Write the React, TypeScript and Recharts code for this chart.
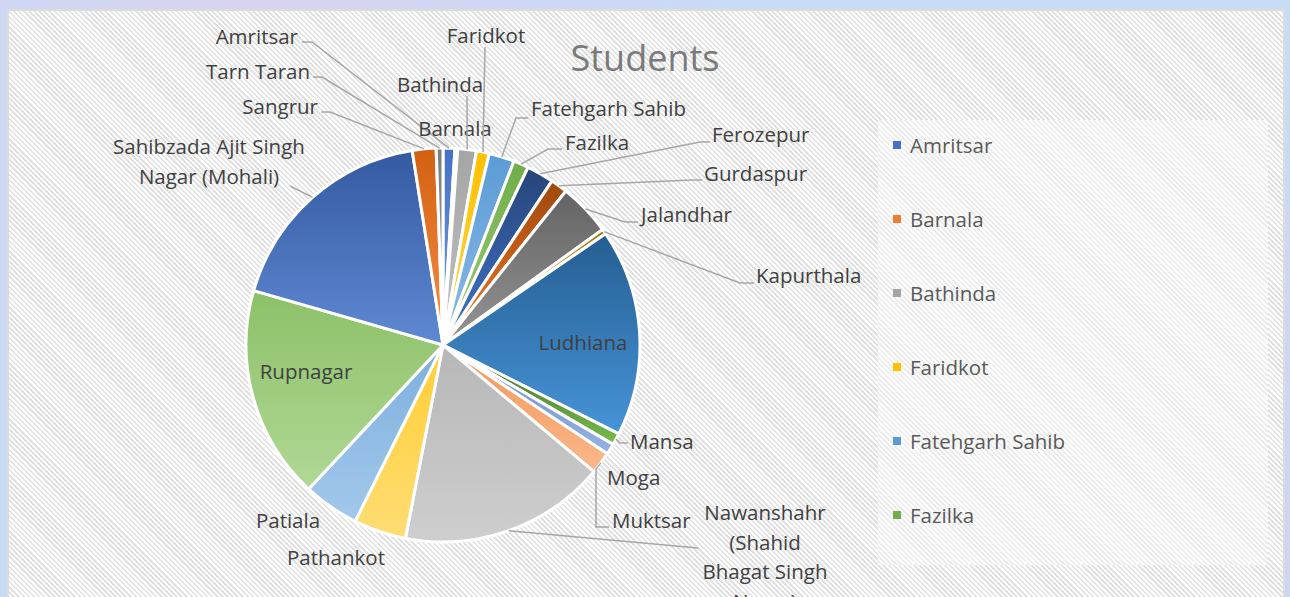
import React from 'react';
import { PieChart, Pie, Cell, Legend } from 'recharts';

const districts = [
  'Amritsar', 'Barnala', 'Bathinda', 'Faridkot', 'Fatehgarh Sahib', 'Fazilka',
  'Ferozepur', 'Gurdaspur', 'Jalandhar', 'Kapurthala', 'Ludhiana', 'Mansa',
  'Moga', 'Muktsar', 'Nawanshahr (Shahid Bhagat Singh Nagar)', 'Pathankot',
  'Patiala', 'Rupnagar', 'Sahibzada Ajit Singh Nagar (Mohali)', 'Sangrur', 'Tarn Taran',
];
const students = [35, 8, 55, 38, 75, 45, 80, 50, 155, 15, 612, 35, 32, 65, 610, 155, 165, 630, 650, 70, 20];

const colors = [
  '#4472C4', '#ED7D31', '#A5A5A5', '#FFC000', '#5B9BD5', '#70AD47',
  '#264478', '#9E480E', '#636363', '#997300', '#255E91', '#43682B',
  '#698ED0', '#F1975A', '#B7B7B7', '#FFCD33', '#7CAFDD', '#8CC168',
  '#335AA1', '#D26012', '#7C7C7C',
];

const data = districts.map((name, i) => ({ name, students: students[i] }));

const FONT = '"Open Sans", "Noto Sans", sans-serif';
const RAD = Math.PI / 180;

// lighter, a bit more saturated version of a colour (bottom of the slice gradient)
const lighten = (hex: string) => {
  const n = parseInt(hex.slice(1), 16);
  const r = ((n >> 16) & 255) / 255, g = ((n >> 8) & 255) / 255, b = (n & 255) / 255;
  const max = Math.max(r, g, b), min = Math.min(r, g, b);
  let h = 0, s = 0;
  const l = (max + min) / 2;
  if (max !== min) {
    const d = max - min;
    s = l > 0.5 ? d / (2 - max - min) : d / (max + min);
    if (max === r) h = (g - b) / d + (g < b ? 6 : 0);
    else if (max === g) h = (b - r) / d + 2;
    else h = (r - g) / d + 4;
    h *= 60;
  }
  const s2 = Math.min(1, s * 1.1);
  const l2 = l + (1 - l) * 0.32;
  return `hsl(${h.toFixed(1)}, ${(s2 * 100).toFixed(1)}%, ${(l2 * 100).toFixed(1)}%)`;
};

type LabelSpot = { x: number; y: number; anchor: 'start' | 'middle' | 'end'; lines: string[]; path?: number[][] };

// where Excel put each data label, and the bends of its leader line
const labelSpots: Record<string, LabelSpot> = {
  'Amritsar': { x: 298, y: 36, anchor: 'end', lines: ['Amritsar'], path: [[312, 42], [302, 42]] },
  'Tarn Taran': { x: 310, y: 71, anchor: 'end', lines: ['Tarn Taran'], path: [[322, 77], [313, 77]] },
  'Sangrur': { x: 318, y: 106, anchor: 'end', lines: ['Sangrur'], path: [[330, 112], [321, 112]] },
  'Sahibzada Ajit Singh Nagar (Mohali)': { x: 209, y: 146, anchor: 'middle', lines: ['Sahibzada Ajit Singh', 'Nagar (Mohali)'], path: [[290, 186]] },
  'Bathinda': { x: 440, y: 84, anchor: 'middle', lines: ['Bathinda'], path: [[467, 96]] },
  'Barnala': { x: 455, y: 128, anchor: 'middle', lines: ['Barnala'] },
  'Faridkot': { x: 486, y: 35, anchor: 'middle', lines: ['Faridkot'], path: [[485, 47]] },
  'Fatehgarh Sahib': { x: 531, y: 108, anchor: 'start', lines: ['Fatehgarh Sahib'], path: [[516, 118], [528, 118]] },
  'Fazilka': { x: 565, y: 142, anchor: 'start', lines: ['Fazilka'], path: [[548, 149], [562, 149]] },
  'Ferozepur': { x: 712, y: 134, anchor: 'start', lines: ['Ferozepur'], path: [[700, 142], [710, 142]] },
  'Gurdaspur': { x: 704, y: 173, anchor: 'start', lines: ['Gurdaspur'], path: [[692, 180], [702, 180]] },
  'Jalandhar': { x: 641, y: 214, anchor: 'start', lines: ['Jalandhar'], path: [[625, 222], [638, 222]] },
  'Kapurthala': { x: 756, y: 275, anchor: 'start', lines: ['Kapurthala'], path: [[740, 283], [754, 283]] },
  'Ludhiana': { x: 583, y: 342, anchor: 'middle', lines: ['Ludhiana'] },
  'Mansa': { x: 630, y: 441, anchor: 'start', lines: ['Mansa'], path: [[620, 443], [628, 443]] },
  'Moga': { x: 607, y: 477, anchor: 'start', lines: ['Moga'] },
  'Muktsar': { x: 612, y: 520, anchor: 'start', lines: ['Muktsar'], path: [[596, 469], [596, 527], [609, 527]] },
  'Nawanshahr (Shahid Bhagat Singh Nagar)': { x: 765, y: 512, anchor: 'middle', lines: ['Nawanshahr', '(Shahid', 'Bhagat Singh', 'Nagar)'], path: [[698, 548]] },
  'Pathankot': { x: 336, y: 557, anchor: 'middle', lines: ['Pathankot'] },
  'Patiala': { x: 288, y: 520, anchor: 'middle', lines: ['Patiala'] },
  'Rupnagar': { x: 306, y: 371, anchor: 'middle', lines: ['Rupnagar'] },
};

const renderLabel = (props: any) => {
  const { cx, cy, midAngle, outerRadius, index } = props;
  const name = districts[index];
  const s = labelSpots[name];
  if (!s) return null;
  const sx = cx + outerRadius * Math.cos(-midAngle * RAD);
  const sy = cy + outerRadius * Math.sin(-midAngle * RAD);
  const pts = s.path ? [[sx, sy], ...s.path] : null;
  return (
    <g key={name}>
      {pts && (
        <polyline points={pts.map((p) => p.join(',')).join(' ')} fill="none" stroke="#a6a6a6" strokeWidth={1.5} />
      )}
      <text x={s.x} y={s.y} textAnchor={s.anchor} dominantBaseline="central" fill="#404040" fontSize={20.5} fontFamily={FONT}>
        {s.lines.map((t, k) => (
          <tspan key={k} x={s.x} dy={k === 0 ? 0 : 29.5}>{t}</tspan>
        ))}
      </text>
    </g>
  );
};

// Excel cut the legend off after six entries
const renderLegend = () => (
  <div style={{ fontFamily: FONT }}>
    {districts.slice(0, 6).map((n, i) => (
      <div key={n} style={{ display: 'flex', alignItems: 'center', height: 74 }}>
        <span style={{ width: 8, height: 8, background: colors[i], marginRight: 9, display: 'inline-block' }} />
        <span style={{ fontSize: 20.5, color: '#595959' }}>{n}</span>
      </div>
    ))}
  </div>
);

const stripes = (c: string) =>
  `repeating-linear-gradient(45deg, #ffffff 0px, #ffffff 1.8px, ${c} 1.8px, ${c} 3.6px)`;

export default function App() {
  return (
    <div
      style={{
        position: 'fixed', left: 0, top: 0, width: 1290, height: 597, overflow: 'hidden',
        background:
          'radial-gradient(circle at 20% 10%, #d9d2f0 0%, rgba(217,210,240,0) 40%), radial-gradient(circle at 80% 90%, #d6cfee 0%, rgba(214,207,238,0) 45%), #c8dcf4',
      }}
    >
      <div style={{ position: 'absolute', left: 7, top: 9, width: 1274, height: 600, border: '2px solid #dcdcdc', background: stripes('#e2e2e2') }} />
      <div style={{ position: 'absolute', left: 878, top: 120, width: 390, height: 445, background: stripes('#ececec') }} />
      <div style={{ position: 'absolute', left: 0, top: 36, width: 1290, textAlign: 'center', fontFamily: FONT, fontSize: 36, lineHeight: '44px', color: '#7a7a7a' }}>
        Students
      </div>
      <div style={{ position: 'absolute', left: 0, top: 0 }}>
        <PieChart width={1290} height={597} margin={{ top: 0, right: 0, bottom: 0, left: 0 }}>
          <defs>
            {colors.map((c, i) => (
              <linearGradient key={i} id={`slice${i}`} x1="0" y1="0" x2="0" y2="1">
                <stop offset="0%" stopColor={c} />
                <stop offset="100%" stopColor={lighten(c)} />
              </linearGradient>
            ))}
          </defs>
          <Pie
            data={data}
            dataKey="students"
            nameKey="name"
            cx={443}
            cy={345}
            outerRadius={197}
            startAngle={90}
            endAngle={-270}
            stroke="#ffffff"
            strokeWidth={3}
            label={renderLabel}
            labelLine={false}
            isAnimationActive={false}
          >
            {data.map((d, i) => (
              <Cell key={d.name} fill={`url(#slice${i})`} />
            ))}
          </Pie>
          <Legend content={renderLegend} layout="vertical" verticalAlign="top" align="right" wrapperStyle={{ left: 893, top: 108, width: 370 }} />
        </PieChart>
      </div>
    </div>
  );
}
